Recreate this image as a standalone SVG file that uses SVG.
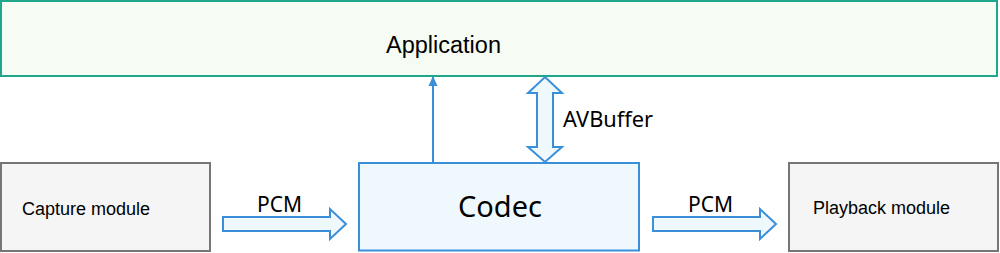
<svg xmlns="http://www.w3.org/2000/svg" width="1000" height="253" viewBox="0 0 1000 253">
<style>
.gray{fill:#f5f5f5;stroke:#767676;stroke-width:2}
.blue{fill:#eef8fd;stroke:#3a8fd9;stroke-width:2}
.arrow{fill:#eef8fd;stroke:#3a8fd9;stroke-width:2;stroke-linejoin:miter}
.ar{font-family:"Liberation Sans",Arial,sans-serif;fill:#000}
.hs{font-family:"Noto Sans","Open Sans",sans-serif;fill:#000}
</style>
<defs>
<marker id="tri" markerWidth="10" markerHeight="10" refX="9" refY="5" orient="auto" markerUnits="userSpaceOnUse">
<path d="M0,0.5 L10,5 L0,9.5 Z" fill="#3a8fd9"/>
</marker>
</defs>
<g id="application">
<rect x="1" y="1" width="996" height="75" fill="#f6fbf4" stroke="#1fa68b" stroke-width="2"/>
<text class="ar" x="443.5" y="53.3" font-size="23.5" text-anchor="middle">Application</text>
</g>
<g id="capture">
<rect class="gray" x="1" y="163" width="209" height="88"/>
<text class="ar" x="22" y="215" font-size="18">Capture module</text>
</g>
<g id="codec">
<rect class="blue" x="359" y="163" width="280" height="87.5"/>
<text class="hs" x="500" y="217" font-size="29" text-anchor="middle">Codec</text>
</g>
<g id="playback">
<rect class="gray" x="789" y="163" width="209" height="88"/>
<text class="ar" x="813" y="214" font-size="18">Playback module</text>
</g>
<g id="connectors">
<line x1="433" y1="163" x2="433" y2="77" stroke="#3a8fd9" stroke-width="2" marker-end="url(#tri)"/>
<path class="arrow" d="M545,77 L562,93 L553,93 L553,147 L562,147 L545,162 L528,147 L537,147 L537,93 L528,93 Z"/>
<text class="hs" x="563" y="127" font-size="21.8">AVBuffer</text>
<path class="arrow" d="M223,217 L330,217 L330,209 L346,224 L330,239 L330,231 L223,231 Z"/>
<text class="hs" x="257" y="212" font-size="21">PCM</text>
<path class="arrow" d="M653,217 L760,217 L760,209 L776,224 L760,239 L760,231 L653,231 Z"/>
<text class="hs" x="688" y="212" font-size="21">PCM</text>
</g>
</svg>
